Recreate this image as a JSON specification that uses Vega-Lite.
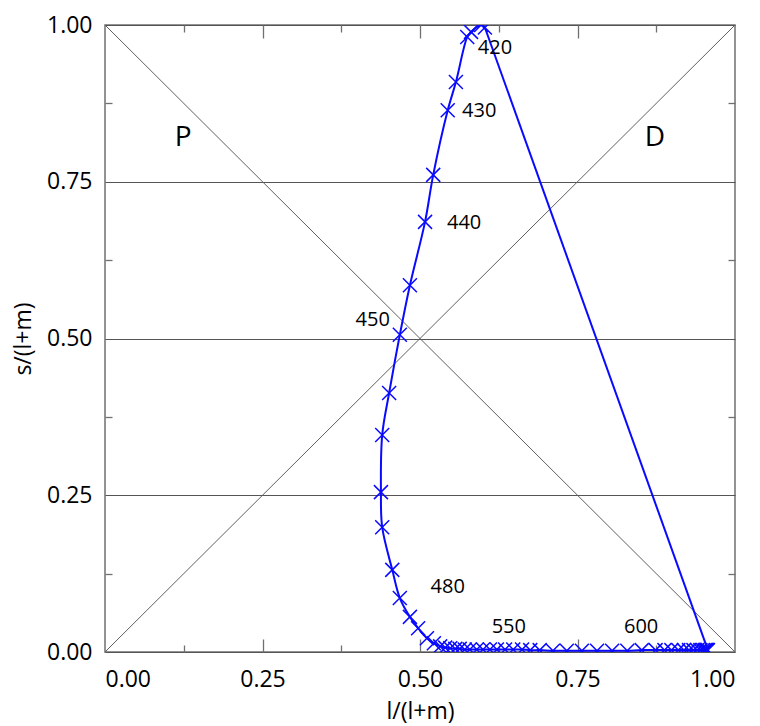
{
  "$schema": "https://vega.github.io/schema/vega-lite/v6.json",
  "width": 630,
  "height": 627,
  "autosize": "none",
  "padding": {"left": 105, "top": 25, "right": 25, "bottom": 74},
  "config": {
    "view": {"stroke": "#707070", "strokeWidth": 1.5},
    "font": "Open Sans",
    "axis": {"labelFont": "Open Sans", "titleFont": "Open Sans", "labelFontWeight": 400, "titleFontWeight": 400, "labelColor": "#000", "titleColor": "#000", "tickColor": "#707070", "tickWidth": 1.3, "domain": false, "grid": false}
  },
  "datasets": {
    "curve": [
      {"i": 1, "l": 0.603, "s": 0.996},
      {"i": 2, "l": 0.597, "s": 1.0},
      {"i": 3, "l": 0.581, "s": 0.989},
      {"i": 4, "l": 0.575, "s": 0.981},
      {"i": 5, "l": 0.557, "s": 0.909},
      {"i": 6, "l": 0.544, "s": 0.864},
      {"i": 7, "l": 0.521, "s": 0.761},
      {"i": 8, "l": 0.508, "s": 0.686},
      {"i": 9, "l": 0.484, "s": 0.585},
      {"i": 10, "l": 0.468, "s": 0.506},
      {"i": 11, "l": 0.451, "s": 0.413},
      {"i": 12, "l": 0.440, "s": 0.346},
      {"i": 13, "l": 0.438, "s": 0.255},
      {"i": 14, "l": 0.440, "s": 0.199},
      {"i": 15, "l": 0.456, "s": 0.131},
      {"i": 16, "l": 0.468, "s": 0.086},
      {"i": 17, "l": 0.484, "s": 0.056},
      {"i": 18, "l": 0.497, "s": 0.038},
      {"i": 19, "l": 0.511, "s": 0.022},
      {"i": 20, "l": 0.522, "s": 0.014},
      {"i": 21, "l": 0.532, "s": 0.009},
      {"i": 22, "l": 0.540, "s": 0.007},
      {"i": 23, "l": 0.548, "s": 0.006},
      {"i": 24, "l": 0.556, "s": 0.005},
      {"i": 25, "l": 0.563, "s": 0.005},
      {"i": 26, "l": 0.571, "s": 0.004},
      {"i": 27, "l": 0.579, "s": 0.004},
      {"i": 28, "l": 0.590, "s": 0.004},
      {"i": 29, "l": 0.600, "s": 0.004},
      {"i": 30, "l": 0.611, "s": 0.004},
      {"i": 31, "l": 0.622, "s": 0.004},
      {"i": 32, "l": 0.635, "s": 0.004},
      {"i": 33, "l": 0.648, "s": 0.004},
      {"i": 34, "l": 0.662, "s": 0.004},
      {"i": 35, "l": 0.675, "s": 0.003},
      {"i": 36, "l": 0.690, "s": 0.003},
      {"i": 37, "l": 0.711, "s": 0.002},
      {"i": 38, "l": 0.733, "s": 0.002},
      {"i": 39, "l": 0.757, "s": 0.002},
      {"i": 40, "l": 0.781, "s": 0.002},
      {"i": 41, "l": 0.805, "s": 0.002},
      {"i": 42, "l": 0.829, "s": 0.002},
      {"i": 43, "l": 0.852, "s": 0.003},
      {"i": 44, "l": 0.874, "s": 0.003},
      {"i": 45, "l": 0.888, "s": 0.003},
      {"i": 46, "l": 0.899, "s": 0.003},
      {"i": 47, "l": 0.910, "s": 0.003},
      {"i": 48, "l": 0.919, "s": 0.003},
      {"i": 49, "l": 0.927, "s": 0.003},
      {"i": 50, "l": 0.934, "s": 0.003},
      {"i": 51, "l": 0.940, "s": 0.003},
      {"i": 52, "l": 0.945, "s": 0.003},
      {"i": 53, "l": 0.949, "s": 0.003},
      {"i": 54, "l": 0.952, "s": 0.003},
      {"i": 55, "l": 0.954, "s": 0.003},
      {"i": 56, "l": 0.955, "s": 0.003},
      {"i": 57, "l": 0.956, "s": 0.003},
      {"i": 58, "l": 0.957, "s": 0.003}
    ]
  },
  "resolve": {"axis": {"x": "independent", "y": "independent"}},
  "layer": [
    {
      "data": {"values": [{"x": 0, "y": 0, "x2": 1, "y2": 1}, {"x": 0, "y": 1, "x2": 1, "y2": 0}]},
      "mark": {"type": "rule", "color": "#606060", "strokeWidth": 1},
      "encoding": {
        "x": {"field": "x", "type": "quantitative", "scale": {"domain": [0, 1], "nice": false, "zero": false},
          "axis": {"orient": "bottom", "values": [0, 0.25, 0.5, 0.75, 1], "format": ".2f", "ticks": false, "labelFontSize": 23, "labelPadding": 16, "title": "l/(l+m)", "titleFontSize": 23, "titlePadding": 9}},
        "y": {"field": "y", "type": "quantitative", "scale": {"domain": [0, 1], "nice": false, "zero": false},
          "axis": {"orient": "left", "values": [0, 0.25, 0.5, 0.75, 1], "format": ".2f", "ticks": false, "grid": true, "gridColor": "#555", "gridWidth": 1.2, "labelFontSize": 23, "labelPadding": 13, "title": "s/(l+m)", "titleFontSize": 23, "titlePadding": 11}},
        "x2": {"field": "x2"},
        "y2": {"field": "y2"}
      }
    },
    {
      "data": {"values": [{"l": 0.603, "s": 0.996}, {"l": 0.957, "s": 0.003}]},
      "mark": {"type": "line", "color": "#0a0aff", "strokeWidth": 2, "clip": true},
      "encoding": {
        "x": {"field": "l", "type": "quantitative", "axis": {"orient": "bottom", "values": [0.125, 0.375, 0.625, 0.875], "labels": false, "tickSize": -7, "title": null}},
        "y": {"field": "s", "type": "quantitative", "axis": {"orient": "left", "values": [0.125, 0.375, 0.625, 0.875], "labels": false, "tickSize": -7, "title": null}}
      }
    },
    {
      "data": {"name": "curve"},
      "mark": {"type": "line", "color": "#0a0aff", "strokeWidth": 2, "interpolate": "catmull-rom", "clip": true},
      "encoding": {
        "x": {"field": "l", "type": "quantitative", "axis": {"orient": "bottom", "values": [0.25, 0.5, 0.75], "labels": false, "tickSize": -13, "title": null}},
        "y": {"field": "s", "type": "quantitative", "axis": {"orient": "right", "values": [0.125, 0.375, 0.625, 0.875], "labels": false, "tickSize": -7, "title": null}},
        "order": {"field": "i", "type": "quantitative"}
      }
    },
    {
      "data": {"name": "curve"},
      "mark": {"type": "point", "shape": "M-1,-1L1,1M-1,1L1,-1", "filled": false, "stroke": "#0a0aff", "strokeWidth": 1.5, "size": 196, "opacity": 1, "clip": true},
      "encoding": {
        "x": {"field": "l", "type": "quantitative", "axis": {"orient": "top", "values": [0.125, 0.375, 0.625, 0.875], "labels": false, "tickSize": -7, "title": null}},
        "y": {"field": "s", "type": "quantitative", "axis": null}
      }
    },
    {
      "data": {"values": [
        {"l": 0.619, "s": 0.963, "t": "420"},
        {"l": 0.594, "s": 0.863, "t": "430"},
        {"l": 0.570, "s": 0.684, "t": "440"},
        {"l": 0.425, "s": 0.530, "t": "450"},
        {"l": 0.544, "s": 0.104, "t": "480"},
        {"l": 0.641, "s": 0.040, "t": "550"},
        {"l": 0.851, "s": 0.040, "t": "600"}
      ]},
      "mark": {"type": "text", "fontSize": 20, "color": "#000", "align": "center", "baseline": "middle"},
      "encoding": {
        "x": {"field": "l", "type": "quantitative", "axis": {"orient": "top", "values": [0.25, 0.5, 0.75], "labels": false, "tickSize": -13, "title": null}},
        "y": {"field": "s", "type": "quantitative", "axis": null},
        "text": {"field": "t"}
      }
    },
    {
      "data": {"values": [{"l": 0.124, "s": 0.82, "t": "P"}, {"l": 0.873, "s": 0.82, "t": "D"}]},
      "mark": {"type": "text", "fontSize": 28, "color": "#000", "align": "center", "baseline": "middle"},
      "encoding": {
        "x": {"field": "l", "type": "quantitative", "axis": null},
        "y": {"field": "s", "type": "quantitative", "axis": null},
        "text": {"field": "t"}
      }
    }
  ]
}
